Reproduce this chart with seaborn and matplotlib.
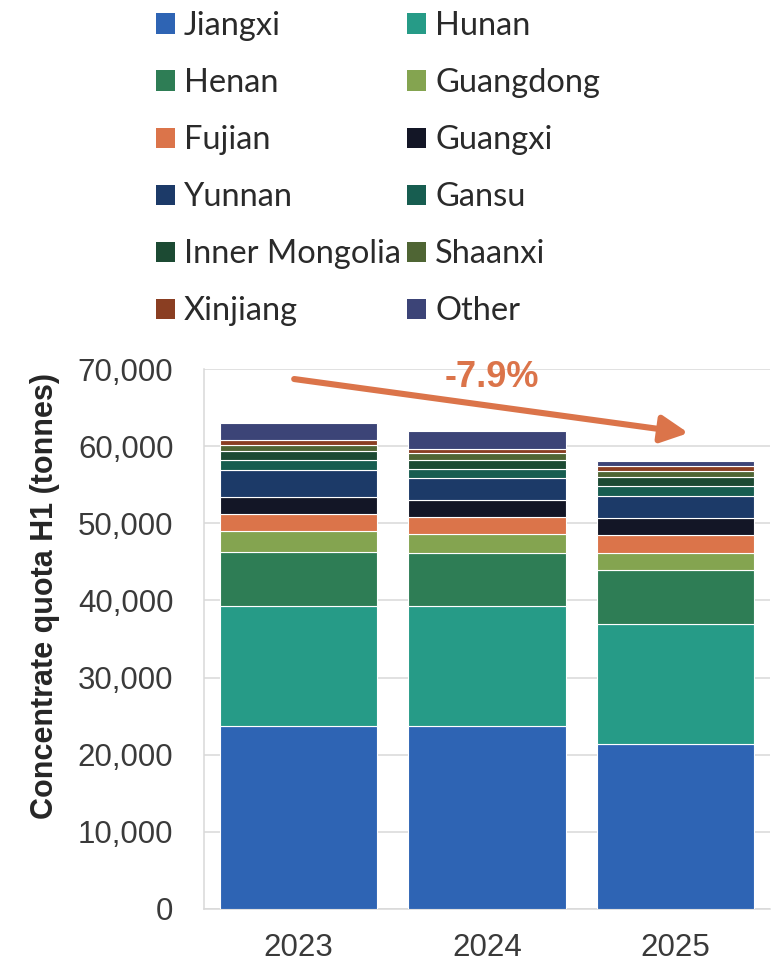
import matplotlib
matplotlib.use("Agg")
import matplotlib.pyplot as plt
import numpy as np
import pandas as pd
import seaborn as sns

# H1 rare-earth concentrate quota by province (thousand tonnes)
years = ["2023", "2024", "2025"]
provinces = ["Jiangxi", "Hunan", "Henan", "Guangdong", "Fujian", "Guangxi",
             "Yunnan", "Gansu", "Inner Mongolia", "Shaanxi", "Xinjiang", "Other"]
jiangxi = [23.7, 23.7, 21.35]
hunan = [15.55, 15.55, 15.55]
henan = [7.0, 6.95, 7.0]
guangdong = [2.75, 2.4, 2.3]
fujian = [2.25, 2.25, 2.25]
guangxi = [2.15, 2.15, 2.2]
yunnan = [3.5, 2.9, 2.85]
gansu = [1.3, 1.2, 1.3]
inner_mongolia = [1.15, 1.15, 1.15]
shaanxi = [0.8, 0.8, 0.8]
xinjiang = [0.6, 0.6, 0.65]
other = [2.25, 2.35, 0.65]
change_label = "-7.9%"

colors = ["#2E64B4", "#269B87", "#2E7D55", "#84A450", "#DB744A", "#131626",
          "#1C3A68", "#175D50", "#1C4A33", "#4F6534", "#8A3E22", "#3C4477"]

series = [jiangxi, hunan, henan, guangdong, fujian, guangxi, yunnan, gansu,
          inner_mongolia, shaanxi, xinjiang, other]
df = pd.DataFrame({p: np.array(v) * 1000 for p, v in zip(provinces, series)})
df["year"] = years

sns.set_theme(style="white")
plt.rcParams["font.family"] = ["Liberation Sans", "DejaVu Sans"]

W, H = 780, 966
fig = plt.figure(figsize=(W / 100, H / 100), dpi=100)
ax = fig.add_axes([204 / W, (H - 909) / H, 566 / W, 540 / H])

bottom = np.zeros(len(years))
handles = []
for prov, col in zip(provinces, colors):
    sns.barplot(data=df, x="year", y=prov, color=col, bottom=bottom,
                width=0.833, edgecolor="white", linewidth=0.8,
                saturation=1, ax=ax, zorder=3)
    bottom = bottom + df[prov].values
    handles.append(plt.Rectangle((0, 0), 1, 1, facecolor=col, edgecolor="none"))

ax.set_xlim(-0.5, 2.5)
ax.set_ylim(0, 70000)
ax.set_yticks(np.arange(0, 70001, 10000))
ax.yaxis.set_major_formatter(matplotlib.ticker.FuncFormatter(lambda v, p: f"{v:,.0f}"))
ax.grid(axis="y", color="#d9d9d9", linewidth=1.1, zorder=0)
ax.set_axisbelow(True)
for s in ["top", "right"]:
    ax.spines[s].set_visible(False)
for s in ["left", "bottom"]:
    ax.spines[s].set_color("#d9d9d9")
    ax.spines[s].set_linewidth(1.1)
ax.tick_params(axis="both", length=0, labelsize=22.5, colors="#3a3a3a")
ax.tick_params(axis="y", pad=22)
ax.tick_params(axis="x", pad=17)
ax.set_xlabel("")
ax.set_ylabel("Concentrate quota H1 (tonnes)", fontsize=22, fontweight="bold",
              color="#262626")
ax.yaxis.set_label_coords(-0.255, 0.58)

# overall change arrow and label
ax.annotate("", xy=(2.068, 61700), xytext=(-0.022, 68700),
            arrowprops=dict(arrowstyle="-|>,head_length=0.4,head_width=0.2",
                            mutation_scale=41, lw=4.4, color="#DB744A",
                            shrinkA=0, shrinkB=0),
            annotation_clip=False, zorder=5)
ax.text(1.026, 68900, change_label, ha="center", va="center", fontsize=26,
        fontweight="bold", color="#DB744A", zorder=5)

# legend in row-major order over two columns
order = [0, 2, 4, 6, 8, 10, 1, 3, 5, 7, 9, 11]
leg = fig.legend([handles[i] for i in order], [provinces[i] for i in order],
                 ncol=2, loc="upper left", bbox_to_anchor=(156 / W, 1 - 11 / H),
                 frameon=False, borderpad=0, borderaxespad=0,
                 handlelength=0.58, handleheight=0.58, handletextpad=0.28,
                 columnspacing=0.18, labelspacing=0.83,
                 prop={"family": ["Lato", "DejaVu Sans"], "size": 23.5})
for t in leg.get_texts():
    t.set_color("#2a2a2a")

fig.savefig("out.png", dpi=100)
